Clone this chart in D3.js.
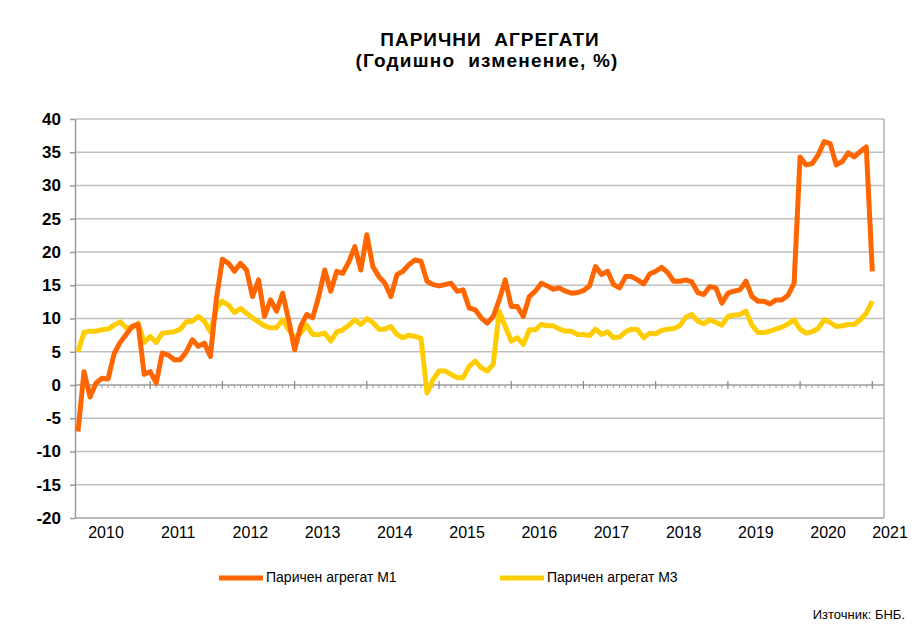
<!DOCTYPE html>
<html>
<head>
<meta charset="utf-8">
<script src="https://cdn.jsdelivr.net/npm/d3@7"></script>
<style>
  body { margin: 0; background: #fff; }
  text { font-family: "Liberation Sans", Arial, sans-serif; }
</style>
</head>
<body>
<div id="chart"></div>
<script>
// data: monthly, Jan 2010 .. Jan 2021
var years = ['2010', '2011', '2012', '2013', '2014', '2015', '2016', '2017', '2018', '2019', '2020', '2021'];
var yTicks = [-20, -15, -10, -5, 0, 5, 10, 15, 20, 25, 30, 35, 40];
var m1 = [-7.0, 2.0, -1.8, 0.3, 1.0, 0.9, 4.7, 6.4, 7.6, 8.8, 9.1, 1.6,
          2.0, 0.3, 4.8, 4.5, 3.8, 3.8, 5.0, 6.8, 5.8, 6.3, 4.3, 13.0,
          18.9, 18.3, 17.1, 18.3, 17.3, 13.3, 15.8, 10.3, 12.8, 11.1, 13.8, 9.8,
          5.3, 8.8, 10.6, 10.1, 13.3, 17.3, 14.1, 17.1, 16.8, 18.5, 20.8, 17.3,
          22.6, 17.8, 16.3, 15.3, 13.3, 16.6, 17.1, 18.1, 18.8, 18.6, 15.6, 15.1,
          14.9, 15.1, 15.3, 14.1, 14.3, 11.6, 11.3, 10.1, 9.3, 10.3, 12.8, 15.8,
          11.8, 11.8, 10.3, 13.3, 14.1, 15.3, 14.9, 14.4, 14.6, 14.1, 13.8, 13.9,
          14.2, 14.9, 17.8, 16.6, 17.1, 15.1, 14.6, 16.3, 16.3, 15.8, 15.2, 16.7,
          17.1, 17.7, 16.9, 15.6, 15.6, 15.8, 15.5, 13.9, 13.6, 14.8, 14.6, 12.3,
          13.8, 14.1, 14.3, 15.6, 13.3, 12.6, 12.6, 12.2, 12.8, 12.8, 13.5, 15.3,
          34.3, 33.1, 33.3, 34.6, 36.6, 36.3, 33.1, 33.6, 34.9, 34.3, 35.1, 35.8,
          17.1];
var m3 = [5.0, 7.9, 8.1, 8.1, 8.3, 8.4, 9.0, 9.5, 8.6, 8.6, 9.3, 6.4,
          7.3, 6.4, 7.8, 7.9, 8.0, 8.4, 9.5, 9.6, 10.3, 9.6, 8.0, 11.5,
          12.6, 12.0, 10.9, 11.5, 10.8, 10.1, 9.5, 8.9, 8.6, 8.6, 9.8, 8.3,
          7.1, 7.8, 9.0, 7.6, 7.6, 7.8, 6.6, 8.0, 8.3, 9.0, 9.8, 9.1,
          10.0, 9.4, 8.4, 8.4, 8.8, 7.6, 7.1, 7.5, 7.3, 7.0, -1.2, 0.8,
          2.1, 2.1, 1.6, 1.1, 1.1, 2.8, 3.6, 2.6, 2.1, 3.1, 11.1, 8.8,
          6.6, 7.1, 6.1, 8.3, 8.3, 9.1, 8.9, 8.9, 8.4, 8.1, 8.1, 7.6,
          7.6, 7.4, 8.4, 7.6, 8.0, 7.1, 7.2, 8.0, 8.4, 8.3, 7.1, 7.8,
          7.7, 8.2, 8.4, 8.5, 8.9, 10.2, 10.6, 9.6, 9.2, 9.8, 9.4, 9.0,
          10.3, 10.5, 10.6, 11.1, 9.0, 7.9, 7.9, 8.1, 8.4, 8.7, 9.2, 9.8,
          8.4, 7.8, 8.0, 8.5, 9.8, 9.4, 8.8, 8.9, 9.1, 9.1, 9.8, 10.8,
          12.6];
var seriesNames = ['Паричен агрегат М1', 'Паричен агрегат М3'];
var seriesColors = ['#FF6600', '#FFCC00'];

var svgwidth = 920;
var svgheight = 633;
var plotLeft = 75, plotRight = 884, plotTop = 119, plotBottom = 518;

var svg = d3.select('#chart')
            .append('svg')
            .attr('width', svgwidth)
            .attr('height', svgheight);

var xscale = d3.scaleLinear()
               .domain([0, m1.length - 1])
               .range([78, 872.3]);
var yscale = d3.scaleLinear()
               .domain([-20, 40])
               .range([plotBottom, plotTop]);

// gridlines
svg.append('g')
   .selectAll('line')
   .data(yTicks)
   .join('line')
   .attr('x1', plotLeft)
   .attr('x2', plotRight)
   .attr('y1', d => yscale(d))
   .attr('y2', d => yscale(d))
   .attr('stroke', '#c0c0c0')
   .attr('stroke-width', 1.5);

// plot frame (right + bottom)
svg.append('line')
   .attr('x1', plotRight).attr('x2', plotRight)
   .attr('y1', plotTop).attr('y2', plotBottom)
   .attr('stroke', '#b0b0b0').attr('stroke-width', 1.5);
svg.append('line')
   .attr('x1', plotLeft).attr('x2', plotRight)
   .attr('y1', plotBottom).attr('y2', plotBottom)
   .attr('stroke', '#b0b0b0').attr('stroke-width', 1.5);

// y axis (plain hyphen for negatives, like the original)
var yaxis = d3.axisLeft(yscale)
              .tickValues(yTicks)
              .tickFormat(d => String(d))
              .tickSize(5)
              .tickSizeOuter(0)
              .tickPadding(9);
var gy = svg.append('g')
            .attr('transform', 'translate(' + plotLeft + ',0)')
            .call(yaxis);
gy.selectAll('path, line').attr('stroke', '#999').attr('stroke-width', 1.5);
gy.selectAll('text')
  .style('font-size', '17px')
  .style('font-weight', 'bold')
  .attr('fill', '#000');

// x axis at zero: minor monthly ticks, major yearly ticks
var months = d3.range(m1.length);
var gx = svg.append('g');
gx.append('line')
  .attr('x1', plotLeft).attr('x2', plotRight)
  .attr('y1', yscale(0)).attr('y2', yscale(0))
  .attr('stroke', '#999').attr('stroke-width', 1.2);
gx.selectAll('.minor')
  .data(months.filter(d => d % 12 != 0))
  .join('line')
  .attr('class', 'minor')
  .attr('x1', d => xscale(d)).attr('x2', d => xscale(d))
  .attr('y1', yscale(0)).attr('y2', yscale(0) + 3)
  .attr('stroke', '#999');
gx.selectAll('.major')
  .data(months.filter(d => d % 12 == 0 && d > 0))
  .join('line')
  .attr('class', 'major')
  .attr('x1', d => xscale(d)).attr('x2', d => xscale(d))
  .attr('y1', yscale(0) - 4).attr('y2', yscale(0) + 4)
  .attr('stroke', '#888').attr('stroke-width', 1.2);

// year labels
svg.append('g')
   .selectAll('text')
   .data(years)
   .join('text')
   .attr('x', (d, i) => Math.min(xscale(i * 12) + 28, 890))
   .attr('y', 538)
   .attr('text-anchor', 'middle')
   .style('font-size', '16px')
   .text(d => d);

// lines
var line = d3.line()
             .x((d, i) => xscale(i))
             .y(d => yscale(d));
[m3, m1].forEach(function(s, k) {
    svg.append('path')
       .datum(s)
       .attr('d', line)
       .attr('fill', 'none')
       .attr('stroke', seriesColors[1 - k])
       .attr('stroke-width', 5)
       .attr('stroke-linejoin', 'round');
});

// title
svg.append('text')
   .attr('x', 490).attr('y', 46)
   .attr('text-anchor', 'middle')
   .style('font-size', '19px').style('font-weight', 'bold')
   .style('letter-spacing', '1px')
   .style('white-space', 'pre')
   .text('ПАРИЧНИ  АГРЕГАТИ');
svg.append('text')
   .attr('x', 487).attr('y', 67)
   .attr('text-anchor', 'middle')
   .style('font-size', '19px').style('font-weight', 'bold')
   .style('letter-spacing', '1.2px')
   .style('white-space', 'pre')
   .text('(Годишно  изменение, %)');

// legend
var legendX = [219, 500];
seriesNames.forEach(function(n, i) {
    svg.append('line')
       .attr('x1', legendX[i]).attr('x2', legendX[i] + 44)
       .attr('y1', 578).attr('y2', 578)
       .attr('stroke', seriesColors[i]).attr('stroke-width', 5);
    svg.append('text')
       .attr('x', legendX[i] + 47).attr('y', 578)
       .attr('dominant-baseline', 'middle')
       .style('font-size', '14px')
       .text(n);
});

svg.append('text')
   .attr('x', 905).attr('y', 619)
   .attr('text-anchor', 'end')
   .style('font-size', '13px')
   .text('Източник: БНБ.');
</script>
</body>
</html>
